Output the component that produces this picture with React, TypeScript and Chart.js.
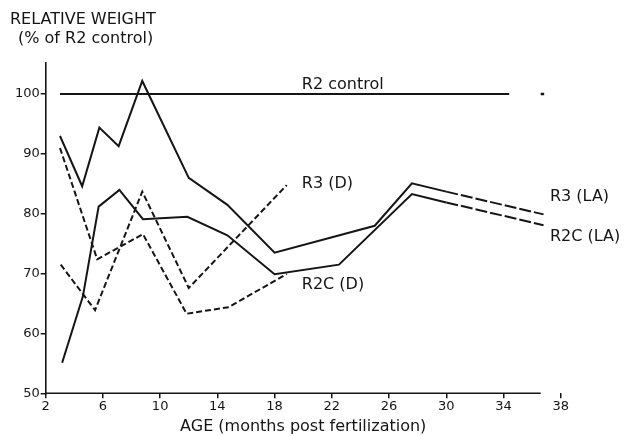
import React, { useEffect, useRef } from "react";
import { Chart, registerables } from "chart.js";

Chart.register(...registerables);

// ---- data (months post fertilization vs relative weight, % of R2 control) ----
const xTickValues = [2, 6, 10, 14, 18, 22, 26, 30, 34, 38];
const yTickValues = [50, 60, 70, 80, 90, 100];

const r3LaMonths = [3, 4.55, 5.75, 7.1, 8.75, 12, 14.7, 18, 25, 27.6, 30, 36.8];
const r3LaValues = [93.0, 84.6, 94.4, 91.3, 102.2, 86.0, 81.5, 73.5, 78.0, 85.1, 83.7, 79.9];

const r2cLaMonths = [3.15, 4.6, 5.7, 7.15, 8.8, 11.9, 14.7, 18, 22.5, 27.6, 30, 36.8];
const r2cLaValues = [55.1, 66.2, 81.2, 84.0, 79.1, 79.5, 76.4, 69.9, 71.5, 83.3, 81.9, 78.1];

const r3DMonths = [3.05, 5.45, 8.75, 12, 18.85];
const r3DValues = [71.5, 63.9, 83.7, 67.6, 84.8];

const r2cDMonths = [3.0, 5.6, 8.8, 11.85, 14.8, 18.85];
const r2cDValues = [91.0, 72.4, 76.6, 63.3, 64.4, 69.95];

const controlMonths = [3, 34.4];
const controlValues = [100, 100];
const controlMarkMonths = [36.6];
const controlMarkValues = [100];

const seriesLabels = ["R2 control", "R3 (D)", "R2C (D)", "R3 (LA)", "R2C (LA)"];
const seriesLabelMonths = [19.9, 19.9, 19.9, 37.25, 37.25];
const seriesLabelValues = [100.83, 84.3, 67.45, 82.14, 75.46];

const yTitleLines = ["RELATIVE WEIGHT", "(% of R2 control)"];
const xTitle = "AGE (months post fertilization)";

const FONT = "DejaVu Sans";
const INK = "#151515";

const pts = (xs: number[], ys: number[]) => xs.map((x, i) => ({ x, y: ys[i] }));

export default function App() {
  const ref = useRef<HTMLCanvasElement | null>(null);

  useEffect(() => {
    if (!ref.current) return;

    const annotate = {
      id: "annotate",
      afterDraw(chart: any) {
        const { ctx, scales } = chart;
        const xs = scales.x;
        const ys = scales.y;
        ctx.save();
        // broken x axis line
        ctx.strokeStyle = INK;
        ctx.lineWidth = 1.6;
        ctx.beginPath();
        ctx.moveTo(xs.getPixelForValue(2), ys.getPixelForValue(50));
        ctx.lineTo(xs.getPixelForValue(36.6), ys.getPixelForValue(50));
        ctx.stroke();

        ctx.fillStyle = INK;
        ctx.font = `16px "${FONT}"`;
        ctx.textBaseline = "alphabetic";
        ctx.textAlign = "left";
        seriesLabels.forEach((t, i) => {
          ctx.fillText(
            t,
            xs.getPixelForValue(seriesLabelMonths[i]),
            ys.getPixelForValue(seriesLabelValues[i])
          );
        });
        // y title (horizontal, top-left)
        ctx.fillText(yTitleLines[0], 10, 23.5);
        ctx.fillText(yTitleLines[1], 18, 43);
        ctx.restore();
      },
    };

    const chart = new Chart(ref.current, {
      type: "line",
      data: {
        datasets: [
          {
            label: "R2 control",
            data: pts(controlMonths, controlValues),
            borderColor: INK,
            borderWidth: 2,
            pointRadius: 0,
          },
          {
            label: "R2 control mark",
            data: pts(controlMarkMonths, controlMarkValues),
            borderColor: INK,
            borderWidth: 2.5,
            pointStyle: "dash",
            pointRadius: 3.5,
            showLine: false,
          },
          {
            label: "R3 (LA)",
            data: pts(r3LaMonths, r3LaValues),
            borderColor: INK,
            borderWidth: 2,
            pointRadius: 0,
            tension: 0,
            segment: {
              borderDash: (c: any) => (c.p0.parsed.x >= 30 ? [12, 3] : undefined),
            },
          },
          {
            label: "R2C (LA)",
            data: pts(r2cLaMonths, r2cLaValues),
            borderColor: INK,
            borderWidth: 2,
            pointRadius: 0,
            tension: 0,
            segment: {
              borderDash: (c: any) => (c.p0.parsed.x >= 30 ? [12, 3] : undefined),
            },
          },
          {
            label: "R3 (D)",
            data: pts(r3DMonths, r3DValues),
            borderColor: INK,
            borderWidth: 2,
            borderDash: [6, 3],
            pointRadius: 0,
            tension: 0,
          },
          {
            label: "R2C (D)",
            data: pts(r2cDMonths, r2cDValues),
            borderColor: INK,
            borderWidth: 2,
            borderDash: [6, 3],
            pointRadius: 0,
            tension: 0,
          },
        ],
      },
      options: {
        responsive: false,
        animation: false,
        devicePixelRatio: 1,
        layout: { padding: { top: 63, right: 64.3, bottom: 0, left: 0 } },
        plugins: {
          legend: { display: false },
          tooltip: { enabled: false },
          title: { display: false },
        },
        scales: {
          x: {
            type: "linear",
            min: 2,
            max: 38,
            afterBuildTicks: (s: any) => {
              s.ticks = xTickValues.map((v) => ({ value: v }));
            },
            afterFit: (s: any) => {
              s.height = 42.7;
            },
            border: { display: false },
            grid: {
              drawOnChartArea: false,
              drawTicks: true,
              tickLength: 5,
              color: INK,
              lineWidth: 1.5,
            },
            ticks: {
              color: INK,
              font: { family: FONT, size: 13 },
              padding: 1,
              maxRotation: 0,
              autoSkip: false,
            },
            title: {
              display: true,
              text: xTitle,
              color: INK,
              font: { family: FONT, size: 16 },
              padding: { top: 0, bottom: 0 },
            },
          },
          y: {
            type: "linear",
            min: 50,
            max: 105.2,
            afterBuildTicks: (s: any) => {
              s.ticks = yTickValues.map((v) => ({ value: v }));
            },
            afterFit: (s: any) => {
              s.width = 45.7;
            },
            border: { display: true, color: INK, width: 1.6 },
            grid: {
              drawOnChartArea: false,
              drawTicks: true,
              tickLength: 5,
              color: INK,
              lineWidth: 1.5,
            },
            ticks: {
              color: INK,
              font: { family: FONT, size: 13 },
              padding: 1,
              autoSkip: false,
            },
          },
        },
      },
      plugins: [annotate],
    } as any);

    return () => chart.destroy();
  }, []);

  return (
    <div style={{ position: "absolute", left: 0, top: 0, width: 625, height: 436, background: "#fff" }}>
      <canvas ref={ref} width={625} height={436} />
    </div>
  );
}
